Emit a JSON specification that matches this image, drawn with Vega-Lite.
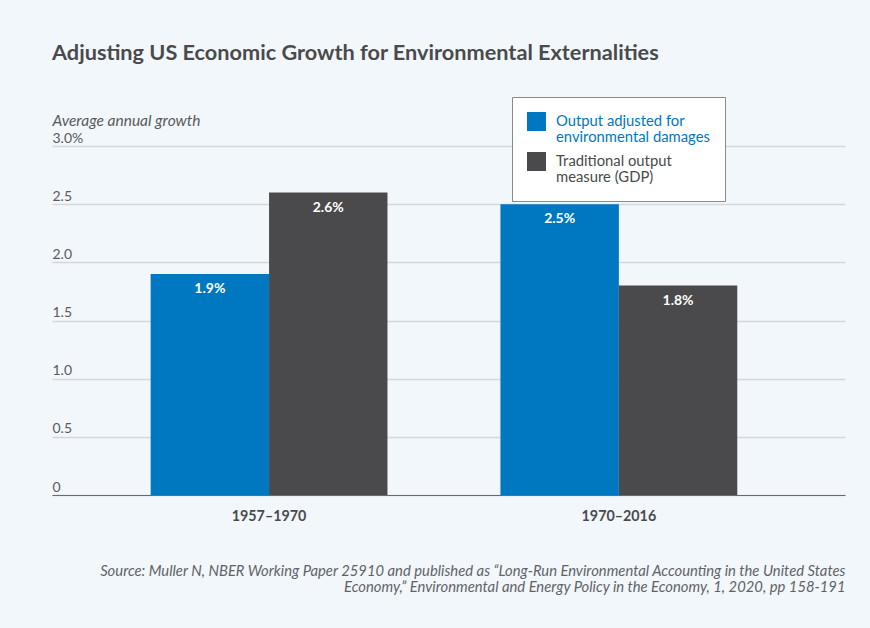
{
  "$schema": "https://vega.github.io/schema/vega-lite/v6.json",
  "width": 793,
  "height": 349,
  "autosize": {"type": "none"},
  "padding": {"left": 52, "top": 146, "right": 25, "bottom": 133},
  "background": "#f2f7fb",
  "config": {
    "font": "Lato",
    "view": {"stroke": null}
  },
  "title": {
    "text": "Adjusting US Economic Growth for Environmental Externalities",
    "anchor": "start",
    "font": "Lato",
    "fontSize": 21.7,
    "fontWeight": "bold",
    "color": "#4a4a4c",
    "offset": 32
  },
  "data": {
    "values": [
      {"period": "1957–1970", "measure": "Output adjusted for environmental damages", "growth": 1.9, "label": "1.9%"},
      {"period": "1957–1970", "measure": "Traditional output measure (GDP)", "growth": 2.6, "label": "2.6%"},
      {"period": "1970–2016", "measure": "Output adjusted for environmental damages", "growth": 2.5, "label": "2.5%"},
      {"period": "1970–2016", "measure": "Traditional output measure (GDP)", "growth": 1.8, "label": "1.8%"}
    ]
  },
  "encoding": {
    "x": {
      "field": "period",
      "type": "nominal",
      "scale": {"paddingInner": 0.323, "paddingOuter": 0.295, "align": 0.478},
      "axis": {
        "labelAngle": 0,
        "labelFont": "Lato",
        "labelFontSize": 14.3,
        "labelFontWeight": "bold",
        "labelColor": "#4a4a4c",
        "labelPadding": 14,
        "ticks": false,
        "domainColor": "#6a6a6a",
        "domainWidth": 1.2,
        "title": ["Source: Muller N, NBER Working Paper 25910 and published as “Long-Run Environmental Accounting in the United States", "Economy,” Environmental and Energy Policy in the Economy, 1, 2020, pp 158-191"],
        "titleAlign": "right",
        "titleAnchor": "end",
        "titleX": 793,
        "titleY": 80,
        "titleBaseline": "alphabetic",
        "titleFont": "Lato",
        "titleFontSize": 14.8,
        "titleFontStyle": "italic",
        "titleFontWeight": "normal",
        "titleColor": "#5f6368",
        "titleLineHeight": 16
      }
    },
    "xOffset": {"field": "measure", "type": "nominal"},
    "y": {
      "field": "growth",
      "type": "quantitative",
      "scale": {"domain": [0, 3], "nice": false},
      "axis": {
        "values": [0, 0.5, 1, 1.5, 2, 2.5, 3],
        "labelExpr": "datum.value == 3 ? '3.0%' : datum.value == 0 ? '0' : format(datum.value, '.1f')",
        "labelAlign": "left",
        "labelBaseline": "alphabetic",
        "labelOffset": -4,
        "labelPadding": 0,
        "ticks": false,
        "tickSize": 0,
        "domain": false,
        "grid": true,
        "gridColor": "#d4d7db",
        "gridWidth": 1.5,
        "labelFont": "Lato",
        "labelFontSize": 14,
        "labelColor": "#5a5a5c",
        "title": "Average annual growth",
        "titleAngle": 0,
        "titleAlign": "left",
        "titleAnchor": "start",
        "titleX": 0,
        "titleY": -21,
        "titleBaseline": "alphabetic",
        "titleFont": "Lato",
        "titleFontSize": 15.5,
        "titleFontStyle": "italic",
        "titleFontWeight": "normal",
        "titleColor": "#5a5a5c"
      }
    }
  },
  "layer": [
    {
      "mark": {"type": "bar"},
      "encoding": {
        "color": {
          "field": "measure",
          "type": "nominal",
          "scale": {
            "domain": ["Output adjusted for environmental damages", "Traditional output measure (GDP)"],
            "range": ["#0077c1", "#4a4a4c"]
          },
          "legend": {
            "orient": "none",
            "legendX": 460,
            "legendY": -49,
            "title": null,
            "fillColor": "#ffffff",
            "strokeColor": "#8a8a8a",
            "padding": 15,
            "symbolType": "square",
            "symbolSize": 361,
            "symbolStrokeWidth": 0,
            "symbolOpacity": 1,
            "labelFont": "Lato",
            "labelFontSize": 14.8,
            "labelOffset": 10,
            "labelLimit": 300,
            "rowPadding": 6,
            "labelExpr": "datum.value == 'Output adjusted for environmental damages' ? ['Output adjusted for', 'environmental damages'] : ['Traditional output', 'measure (GDP)']",
            "labelColor": {"expr": "datum.value == 'Output adjusted for environmental damages' ? '#0077c1' : '#4a4a4c'"}
          }
        }
      }
    },
    {
      "mark": {"type": "text", "baseline": "middle", "dy": 15, "font": "Lato", "fontSize": 14, "fontWeight": "bold", "color": "#ffffff"},
      "encoding": {
        "text": {"field": "label", "type": "nominal"}
      }
    }
  ]
}
